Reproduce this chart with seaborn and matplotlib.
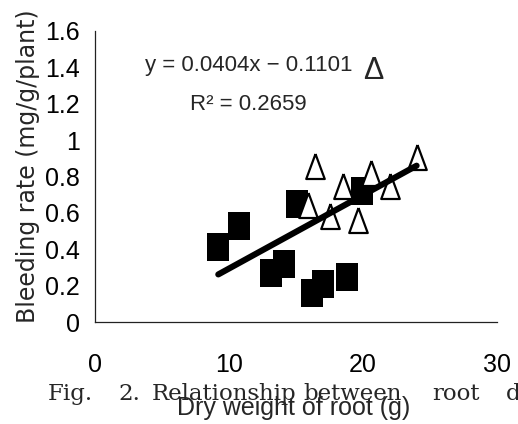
import numpy as np
import pandas as pd
import matplotlib
matplotlib.use("Agg")
import matplotlib.pyplot as plt
import seaborn as sns

# ---- data ----
square_x = [9.2, 10.75, 13.1, 14.1, 16.2, 17.0, 18.8, 15.1, 19.95]
square_y = [0.41, 0.53, 0.27, 0.32, 0.16, 0.21, 0.25, 0.65, 0.72]
tri_x = [16.4, 18.5, 15.9, 17.5, 19.65, 20.6, 22.0, 24.0]
tri_y = [0.855, 0.75, 0.645, 0.585, 0.56, 0.82, 0.75, 0.905]
slope = 0.0404
intercept = -0.1101
r_squared = 0.2659
x_ticks = [0, 10, 20, 30]
x_tick_labels = ["0", "10", "20", "30"]
y_ticks = [0, 0.2, 0.4, 0.6, 0.8, 1.0, 1.2, 1.4, 1.6]
y_tick_labels = ["0", "0.2", "0.4", "0.6", "0.8", "1", "1.2", "1.4", "1.6"]
x_label = "Dry weight of root (g)"
y_label = "Bleeding rate (mg/g/plant)"
caption_words = ["Fig.", "2.", "Relationship", "between", "root", "dry"]

sns.set_style("white")
plt.rcParams["font.family"] = ["Liberation Sans", "DejaVu Sans"]

W, H = 518, 424
fig = plt.figure(figsize=(W / 100, H / 100), dpi=100)
ax = fig.add_axes([95 / W, 1 - 322 / H, 402 / W, 291 / H])

sq_marker = [(-0.75, -1), (0.75, -1), (0.75, 1), (-0.75, 1), (-0.75, -1)]
tri_marker = [(0, 1), (-0.74, -1), (0.74, -1), (0, 1)]

df_sq = pd.DataFrame({"x": square_x, "y": square_y})
df_tri = pd.DataFrame({"x": tri_x, "y": tri_y})

sns.scatterplot(data=df_sq, x="x", y="y", marker=sq_marker, s=420,
                color="black", edgecolor="black", linewidth=0, ax=ax)
sns.scatterplot(data=df_tri, x="x", y="y", marker=tri_marker, s=324,
                facecolor="white", edgecolor="black", linewidth=1.6, ax=ax)

all_x = np.array(square_x + tri_x)
fit_x = np.array([all_x.min(), all_x.max()])
fit_y = slope * fit_x + intercept
sns.lineplot(x=fit_x, y=fit_y, color="black", linewidth=4.4, ax=ax,
             solid_capstyle="round")
ax.lines[-1].set_zorder(5)

ax.set_xlim(0, 30)
ax.set_ylim(0, 1.6)
ax.set_xticks(x_ticks)
ax.set_xticklabels(x_tick_labels)
ax.set_yticks(y_ticks)
ax.set_yticklabels(y_tick_labels)

for s in ["top", "right"]:
    ax.spines[s].set_visible(False)
for s in ["left", "bottom"]:
    ax.spines[s].set_linewidth(0.9)
    ax.spines[s].set_color("#222222")

ax.tick_params(axis="x", direction="in", length=5, width=0.9, pad=22.5,
               labelsize=18, colors="black")
ax.tick_params(axis="y", direction="in", length=3.6, width=0.9, pad=11,
               labelsize=18, colors="black")

ax.set_xlabel(x_label, fontsize=18, va="baseline")
ax.xaxis.set_label_coords((294 - 95) / 402, (322 - 415) / 291)
ax.set_ylabel(y_label, fontsize=17, family=["DejaVu Sans"], va="center")
ax.yaxis.set_label_coords((28 - 95) / 402, (322 - 166) / 291)

ax.text((145 - 95) / 402, (322 - 65) / 291,
        f"y = {slope:.4f}x \u2212 {abs(intercept):.4f}",
        transform=ax.transAxes, fontsize=16, va="center", ha="left")
ax.text((190 - 95) / 402, (322 - 105) / 291,
        f"R\u00b2 = {r_squared:.4f}",
        transform=ax.transAxes, fontsize=16, va="center", ha="left")
ax.text((373 - 95) / 402, (322 - 71) / 291, "\u0394",
        transform=ax.transAxes, fontsize=22, va="center", ha="center")

caption_x = [48, 118, 152, 303, 432, 506]
for word, px in zip(caption_words, caption_x):
    fig.text(px / W, 1 - 400 / H, word, family=["DejaVu Serif"],
             fontsize=16.5, va="baseline", ha="left")

fig.savefig("out.png", dpi=100)
